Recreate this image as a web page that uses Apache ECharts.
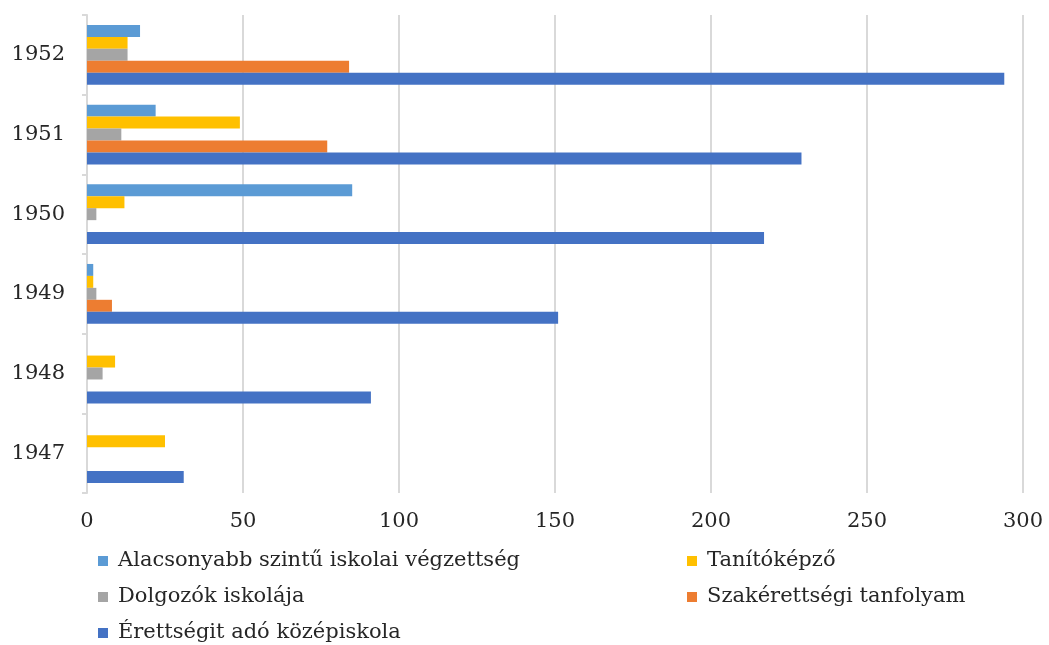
<!DOCTYPE html>
<html>
<head>
<meta charset="utf-8">
<script src="https://cdn.jsdelivr.net/npm/echarts@6/dist/echarts.min.js"></script>
<style>html,body{margin:0;padding:0;background:#fff}#c{width:1049px;height:645px}</style>
</head>
<body>
<div id="c"></div>
<script>
const years = ['1947', '1948', '1949', '1950', '1951', '1952'];
const names = ['Alacsonyabb szintű iskolai végzettség', 'Tanítóképző', 'Dolgozók iskolája', 'Szakérettségi tanfolyam', 'Érettségit adó középiskola'];
const alacsonyabb = [0, 0, 2, 85, 22, 17];
const tanitokepzo = [25, 9, 2, 12, 49, 13];
const dolgozok = [0, 5, 3, 3, 11, 13];
const szakerettsegi = [0, 0, 8, 0, 77, 84];
const erettsegit = [31, 91, 151, 217, 229, 294];
const xTicks = [0, 50, 100, 150, 200, 250, 300];

const colors = ['#5B9BD5', '#FFC000', '#A5A5A5', '#ED7D31', '#4472C4'];
const seriesData = [alacsonyabb, tanitokepzo, dolgozok, szakerettsegi, erettsegit];
const font = 'DejaVu Serif';
const legendText = { fontSize: 21, color: '#262626', lineHeight: 24, fontFamily: font, padding: [0, 0, 0, 5] };

const chart = echarts.init(document.getElementById('c'));
chart.setOption({
  animation: false,
  color: colors,
  textStyle: { fontFamily: font },
  grid: { left: 87, right: 26, top: 15, bottom: 152, containLabel: false },
  xAxis: {
    type: 'value', min: xTicks[0], max: xTicks[xTicks.length - 1], interval: 50,
    axisLine: { show: false }, axisTick: { show: false },
    splitLine: { lineStyle: { color: '#d9d9d9', width: 2 } },
    axisLabel: { fontSize: 21, color: '#262626', margin: 18, fontFamily: font }
  },
  yAxis: {
    type: 'category', data: years,
    axisLine: { lineStyle: { color: '#d9d9d9', width: 2 } },
    axisTick: { show: true, length: 5, lineStyle: { color: '#d9d9d9', width: 2 } },
    axisLabel: { fontSize: 21, color: '#262626', margin: 22, fontFamily: font }
  },
  legend: [
    { orient: 'vertical', left: 93, top: 544, height: 120, itemWidth: 10, itemHeight: 10, itemGap: 12, icon: 'rect',
      data: [names[0], names[2], names[4]], textStyle: legendText },
    { orient: 'vertical', left: 682, top: 544, height: 120, itemWidth: 10, itemHeight: 10, itemGap: 12, icon: 'rect',
      data: [names[1], names[3]], textStyle: legendText }
  ],
  series: names.map((n, i) => ({
    name: n, type: 'bar', data: seriesData[i],
    barGap: '0%', barCategoryGap: '25%'
  }))
});
</script>
</body>
</html>
